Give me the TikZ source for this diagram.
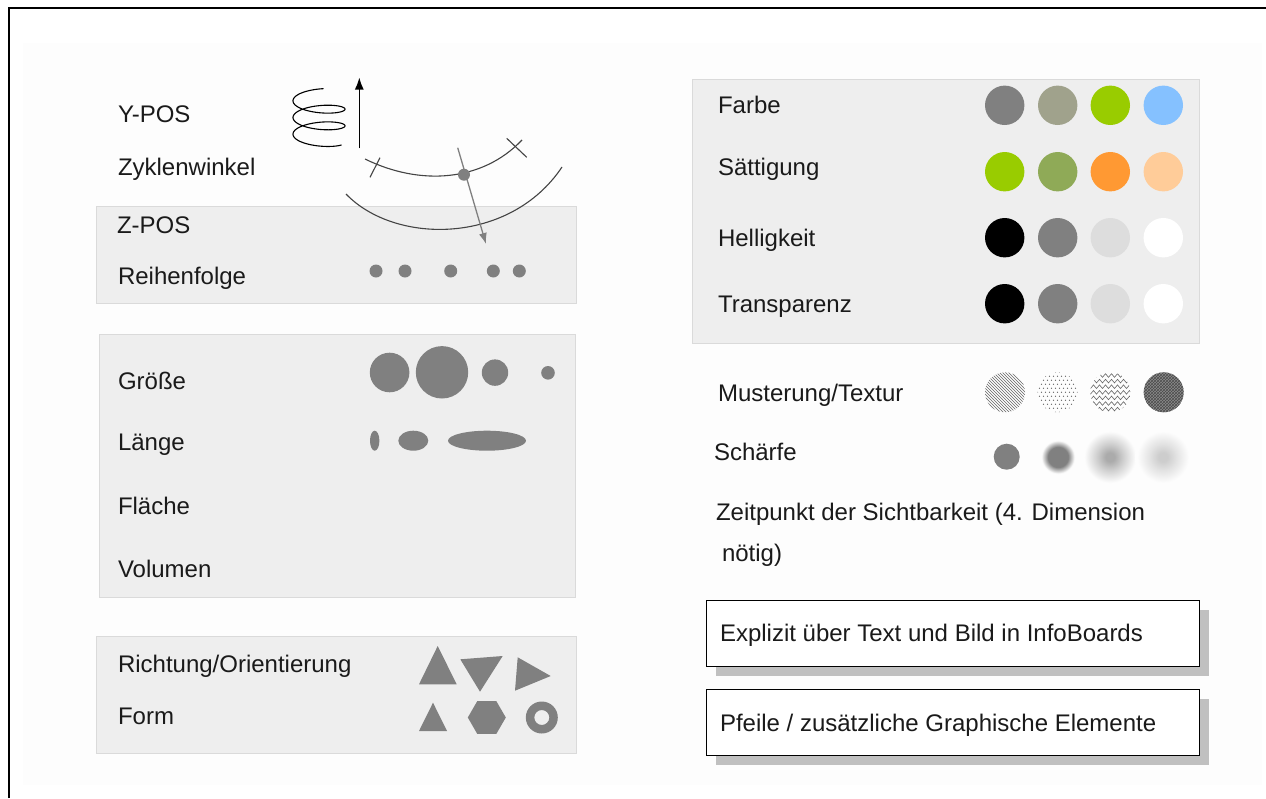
\documentclass[tikz,border=0pt]{standalone}
\usepackage{fontspec}
\setmainfont{Liberation Sans}
\usetikzlibrary{arrows.meta,patterns,decorations.pathmorphing}

% palette
\definecolor{ink}{HTML}{1A1A1A}
\definecolor{panelfill}{HTML}{EEEEEE}
\definecolor{panelline}{HTML}{DADADA}
\definecolor{page}{HTML}{FDFDFD}
\definecolor{midgray}{HTML}{808080}
\definecolor{stroke}{HTML}{444444}
\definecolor{cSage}{HTML}{A0A28C}
\definecolor{cLime}{HTML}{99CC00}
\definecolor{cSky}{HTML}{85C1FF}
\definecolor{cOlive}{HTML}{8FAA57}
\definecolor{cOrange}{HTML}{FF9933}
\definecolor{cPeach}{HTML}{FFCC99}
\definecolor{cLight}{HTML}{DDDDDD}
\definecolor{shadowgray}{HTML}{C0C0C0}
\definecolor{blurA}{HTML}{808080}
\definecolor{blurB}{HTML}{ABABAB}
\definecolor{blurC}{HTML}{CDCDCD}
\colorlet{blurAmid}{blurA!55!page}
\colorlet{blurBmid}{blurB!55!page}
\colorlet{blurCmid}{blurC!55!page}

% soft-edged discs for the sharpness row (25bp = rim of the shaded circle)
\pgfdeclareradialshading{softA}{\pgfpoint{0bp}{0bp}}{color(0bp)=(blurA); color(14bp)=(blurA); color(18bp)=(blurAmid); color(23bp)=(page); color(50bp)=(page)}
\pgfdeclareradialshading{softB}{\pgfpoint{0bp}{0bp}}{color(0bp)=(blurB); color(4bp)=(blurB); color(12bp)=(blurBmid); color(23bp)=(page); color(50bp)=(page)}
\pgfdeclareradialshading{softC}{\pgfpoint{0bp}{0bp}}{color(0bp)=(blurC); color(4bp)=(blurC); color(12bp)=(blurCmid); color(23bp)=(page); color(50bp)=(page)}

\newcommand{\labelfont}{\fontsize{24}{28}\selectfont}

\begin{document}
\begin{tikzpicture}[x=1pt,y=-1pt,
  lbl/.style={anchor=base west, inner sep=0pt, outer sep=0pt, text=ink, font=\labelfont},
  panel/.style={fill=panelfill, draw=panelline, line width=1pt},
  disc/.style={fill=midgray},
  sketch/.style={draw=stroke, line width=1.1pt},
  boxframe/.style={draw=black, fill=white, line width=1pt, minimum width=493pt, minimum height=66pt, inner sep=0pt}
]
\useasboundingbox (0,0) rectangle (1266,798);
\fill[white] (0,0) rectangle (1266,798);
\fill[page] (23,43) rectangle (1262,785);

% page frame (top and left edges)
\draw[line width=2pt] (9,798) -- (9,7.7) -- (1266,7.7);

% ---------- left column ----------
\draw[panel] (96,206) rectangle (576,303);
\draw[panel] (99,334) rectangle (575,597);
\draw[panel] (96,636) rectangle (576,753);

\node[lbl] (ypos)   at (118,122) {Y-POS};
\node[lbl] (zyklen) at (118,175) {Zyklenwinkel};
\node[lbl] (zpos)   at (117,233) {Z-POS};
\node[lbl] (reihe)  at (118,284) {Reihenfolge};
\node[lbl] (groesse) at (118,389) {Größe};
\node[lbl] (laenge) at (118,450) {Länge};
\node[lbl] (flaeche) at (118,514) {Fläche};
\node[lbl] (volumen) at (118,577) {Volumen};
\node[lbl] (richtung) at (118,672) {Richtung/Orientierung};
\node[lbl] (form)   at (118,724) {Form};

% coil sketch
\draw[stroke, line width=1.1pt] plot[smooth, samples=220, domain=-10:960, variable=\t]
  ({319-26*sin(\t)},{96.67+0.0463*\t-7.67*cos(\t)});
% vertical arrow
\draw[line width=1.3pt, -{Latex[length=12pt,width=9pt]}] (359.3,148.3) -- (359.3,77.5);

% cycle angle sketch: two arcs, ticks, point and radial arrow
\draw[sketch] (365,159) .. controls (420,186) and (482,182) .. (522,140);
\draw[sketch] (346,194) .. controls (395,245) and (510,245) .. (562,167);
\draw[sketch] (370,177.3) -- (380,157.7);
\draw[sketch] (506.7,138.3) -- (526.7,157.3);
\draw[draw=midgray, line width=1.3pt, -{Latex[length=11pt,width=8pt]}] (457.7,147.7) -- (486,244);
\fill[midgray] (464,174.7) circle[radius=6pt];

% order dots
\foreach \x in {376,405,450.7,493.3,519.3}
  \fill[disc] (\x,271) circle[radius=6.5pt];

% size discs
\fill[disc] (389.6,372.5) circle[radius=19.8pt];
\fill[disc] (442,372.3) circle[radius=26.2pt];
\fill[disc] (495,372.6) circle[radius=13.2pt];
\fill[disc] (548,372.8) circle[radius=6.8pt];

% length ellipses
\fill[disc] (374.7,440.7) ellipse[x radius=4.7pt, y radius=10pt];
\fill[disc] (413.3,440.7) ellipse[x radius=15pt, y radius=10pt];
\fill[disc] (487,440.7) ellipse[x radius=39pt, y radius=10pt];

% orientation triangles
\fill[disc] (419,684.3) -- (437.7,646) -- (456.7,684.3) -- cycle;
\fill[disc] (460.3,659.3) -- (502.7,656) -- (480,691.7) -- cycle;
\fill[disc] (517.7,657.3) -- (550.7,676) -- (515,690.7) -- cycle;
% form shapes
\fill[disc] (419,731) -- (433,702.7) -- (447,731) -- cycle;
\fill[disc] (486.8,717.5) +(0:19pt) -- +(60:19pt) -- +(120:19pt) -- +(180:19pt) -- +(240:19pt) -- +(300:19pt) -- cycle;
\fill[disc, even odd rule] (541.8,717.5) circle[radius=16pt] circle[radius=7.5pt];

% ---------- right column ----------
\draw[panel] (692,79) rectangle (1199,343);

\node[lbl] (farbe)  at (718,113) {Farbe};
\node[lbl] (saett)  at (718,175) {Sättigung};
\node[lbl] (hell)   at (718,246) {Helligkeit};
\node[lbl] (transp) at (718,312) {Transparenz};

\foreach \y/\a/\b/\c/\d in {105.3/midgray/cSage/cLime/cSky,
                           171.7/cLime/cOlive/cOrange/cPeach,
                           237.7/black/midgray/cLight/white,
                           303.7/black/midgray/cLight/white}{
  \fill[\a] (1004.7,\y) circle[radius=19.7pt];
  \fill[\b] (1057.7,\y) circle[radius=19.7pt];
  \fill[\c] (1110.3,\y) circle[radius=19.7pt];
  \fill[\d] (1163.3,\y) circle[radius=19.7pt];
}

\node[lbl] (muster)  at (718,401) {Musterung/Textur};
\node[lbl] (schaerfe) at (714,460) {Schärfe};
\node[lbl] (zeit)    at (716,520) {Zeitpunkt der Sichtbarkeit (4. Dimension};
\node[lbl] (noetig)  at (722,561) {nötig)};

% texture discs
\fill[pattern=north west lines, pattern color=gray!80!black] (1005,392.3) circle[radius=20pt];
\begin{scope}
  \clip (1057.5,392.3) circle[radius=20pt];
  \foreach \i in {-5,...,5}
    \foreach \j in {-5,...,5}
      \fill[gray!70!black] ({1057.5+\i*4+mod(\j+10,2)*2},{392.3+\j*4}) circle[radius=0.6pt];
\end{scope}
\begin{scope}
  \clip (1110.3,392.3) circle[radius=20pt];
  \foreach \k in {-4,...,4}
    \draw[gray!80!black, line width=0.6pt, decorate, decoration={zigzag, segment length=6pt, amplitude=1.8pt}]
      (1086,{392.3+\k*5.6}) -- (1136,{392.3+\k*5.6});
\end{scope}
\fill[gray!90] (1163.7,392.3) circle[radius=20pt];
\fill[pattern=crosshatch, pattern color=black!70] (1163.7,392.3) circle[radius=20pt];

% sharpness discs
\fill[midgray] (1006.7,456.7) circle[radius=13pt];
\shade[shading=softA] (1058,457) circle[radius=18pt];
\shade[shading=softB] (1110,457) circle[radius=28pt];
\shade[shading=softC] (1163,457) circle[radius=28pt];

% boxed notes with drop shadows
\node[boxframe, draw=none, fill=shadowgray] (shadowA) at (962.5,643) {};
\node[boxframe] (boxA) at (952.5,633) {};
\node[lbl] (boxAtext) at (720,641) {Explizit über Text und Bild in InfoBoards};

\node[boxframe, draw=none, fill=shadowgray] (shadowB) at (962.5,732) {};
\node[boxframe] (boxB) at (952.5,722) {};
\node[lbl] (boxBtext) at (720,731) {Pfeile / zusätzliche Graphische Elemente};
\end{tikzpicture}
\end{document}
